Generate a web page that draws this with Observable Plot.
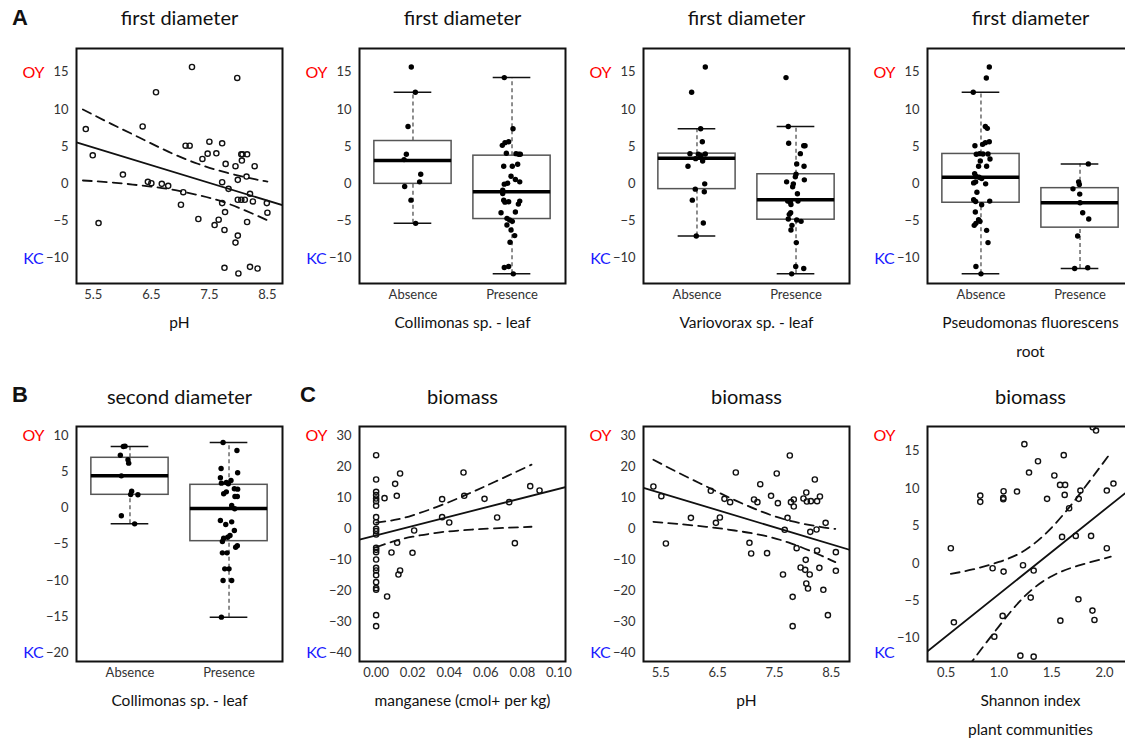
<!DOCTYPE html>
<html><head><meta charset="utf-8">
<script src="https://cdn.jsdelivr.net/npm/d3@7"></script>
<script src="https://cdn.jsdelivr.net/npm/@observablehq/plot@0.6"></script>
<style>
body{margin:0;background:#fff;overflow:hidden}
#root{position:relative;width:1125px;height:740px;overflow:hidden;background:#fff}
.panel{position:absolute}
.panel svg{max-width:none !important}
.letter{position:absolute;font-family:"Liberation Sans",Arial,sans-serif;font-weight:bold;font-size:22px;line-height:22px;color:#111}
</style></head><body><div id="root"></div>
<script>
// ---------- DATA ----------
const categories = ["Absence", "Presence"];
const ticksFD = [-10, -5, 0, 5, 10, 15];
const ticksSD = [-20, -15, -10, -5, 0, 5, 10];
const ticksBio = [-40, -30, -20, -10, 0, 10, 20, 30];
const ticksBioSh = [-10, -5, 0, 5, 10, 15];
const ticksPH = [5.5, 6.5, 7.5, 8.5];
const ticksMn = [0, 0.02, 0.04, 0.06, 0.08, 0.10];
const ticksSh = [0.5, 1.0, 1.5, 2.0];

// A: first diameter vs pH  [pH, value]
const fdPH = [[5.37,7.37],[5.49,3.84],[5.59,-5.27],[6.01,1.25],[6.35,7.72],[6.58,12.32],[6.44,0.27],[6.50,0.09],[6.68,0.0],[6.79,-0.27],[7.01,-2.81],[7.05,-1.12],[7.09,5.13],[7.16,5.13],[7.20,15.71],[7.31,-4.73],[7.38,3.35],[7.47,4.06],[7.50,5.67],[7.59,-5.54],[7.62,4.11],[7.66,-4.82],[7.72,5.45],[7.72,0.22],[7.76,-6.20],[7.77,-3.79],[7.78,2.68],[7.83,-0.67],[7.72,-2.59],[7.76,-11.29],[7.95,2.37],[7.95,-7.90],[7.98,14.24],[7.99,-6.96],[7.99,0.54],[7.99,-2.14],[8.00,-12.05],[8.05,-2.14],[8.05,3.97],[8.06,3.13],[8.07,3.97],[8.11,-2.14],[8.14,0.98],[8.15,3.97],[8.15,-5.13],[8.20,-1.34],[8.25,-2.37],[8.20,-11.16],[8.28,2.37],[8.33,-11.38],[8.49,-2.59],[8.50,-3.88]];
const fdPHFit = [17.98, -2.38]; // intercept, slope
const fdPHCiX = [5.32, 5.8, 6.3, 6.8, 7.3, 7.8, 8.3, 8.5];
const fdPHCiUp = [10.0, 8.1, 6.2, 4.3, 2.7, 1.5, 0.6, 0.3];
const fdPHCiLo = [0.45, 0.2, -0.2, -0.7, -1.5, -2.6, -4.2, -4.9];

// box stats: [low whisker, q1, median, q3, high whisker]
const collFDStats = [[-5.31, 0.0, 3.13, 5.76, 12.32], [-12.1, -4.73, -1.07, 3.79, 14.29]];
const collFDAbs = [[-0.017,15.71],[0.024,12.32],[-0.05,7.72],[-0.067,3.97],[-0.09,3.26],[0.078,1.29],[0.067,0.27],[-0.084,-0.36],[-0.02,-2.19],[0.027,-5.31]];
const collFDPres = [[-0.078,14.29],[0.01,7.41],[-0.098,5.18],[-0.071,5.54],[-0.034,5.67],[-0.057,4.11],[0.04,4.06],[0.067,3.97],[0.084,3.97],[0.057,2.63],[-0.084,2.37],[0.003,2.37],[-0.01,1.03],[0.034,0.58],[0.078,0.27],[-0.044,0.09],[-0.078,-0.04],[-0.094,-0.85],[-0.094,-1.29],[-0.084,-2.19],[-0.071,-2.46],[-0.034,-2.41],[0.078,-2.32],[0.064,-2.72],[-0.111,-3.88],[0.034,-3.79],[-0.051,-4.64],[-0.024,-4.87],[0.003,-5.04],[-0.051,-5.54],[-0.01,-6.2],[0.027,-6.96],[-0.02,-7.86],[-0.034,-11.12],[-0.078,-11.25],[0.013,-12.1]];

const varFDStats = [[-7.01, -0.71, 3.44, 4.06, 7.41], [-12.1, -4.82, -2.14, 1.29, 7.72]];
const varFDAbs = [[0.084,15.71],[-0.054,12.32],[0.037,7.41],[0.054,5.67],[-0.071,4.06],[0.014,3.97],[0.084,4.02],[0.04,3.8],[-0.014,3.39],[0.057,3.08],[-0.091,2.37],[0.078,0.0],[-0.017,-0.71],[0.074,-1.07],[-0.047,-2.19],[0.064,-5.27],[-0.007,-7.01]];
const varFDPres = [[-0.101,14.29],[-0.078,7.72],[-0.074,5.45],[0.078,5.13],[0.091,5.13],[0.044,4.06],[0.007,2.68],[0.081,2.37],[0.0,1.29],[-0.007,0.94],[-0.095,0.27],[0.084,0.54],[-0.027,0.0],[-0.034,-0.4],[0.014,-1.34],[-0.084,-2.32],[-0.057,-2.46],[0.02,-2.32],[-0.051,-2.77],[-0.054,-3.88],[-0.068,-4.1],[-0.078,-4.73],[0.007,-4.87],[0.051,-5.04],[-0.041,-5.58],[-0.051,-6.2],[0.003,-7.9],[-0.003,-11.12],[0.078,-11.38],[-0.044,-12.1]];

const pseFDStats = [[-12.1, -2.54, 0.89, 4.02, 12.32], [-11.38, -5.89, -2.54, -0.58, 2.68]];
const pseFDAbs = [[0.084,15.71],[0.054,14.24],[-0.078,12.32],[0.044,7.72],[0.064,7.46],[-0.061,5.13],[0.017,5.31],[0.044,5.54],[0.084,5.67],[-0.047,3.97],[-0.014,4.06],[0.02,4.02],[0.071,4.02],[0.091,3.35],[-0.007,3.08],[-0.024,2.37],[0.057,2.37],[-0.064,1.38],[-0.051,1.03],[-0.02,0.89],[0.007,0.72],[-0.074,0.13],[-0.054,0.27],[0.047,0.0],[-0.041,-1.12],[-0.074,-2.14],[-0.054,-2.37],[0.088,-2.32],[0.007,-2.81],[-0.057,-3.79],[-0.024,-4.82],[-0.01,-5.04],[-0.051,-5.31],[-0.068,-5.58],[0.057,-6.25],[0.071,-7.9],[-0.051,-11.12],[0.0,-12.1]];
const pseFDPres = [[0.084,2.68],[-0.014,0.27],[-0.007,-0.09],[-0.071,-0.67],[-0.003,-1.38],[0.0,-2.54],[0.027,-3.88],[0.088,-4.73],[-0.024,-7.01],[-0.054,-11.38],[0.078,-11.29]];

// B: second diameter
const collSDStats = [[-2.2, 1.81, 4.43, 6.92, 8.48], [-15.08, -4.59, -0.08, 3.19, 9.03]];
const collSDAbs = [[-0.067,8.48],[-0.05,8.53],[-0.097,7.28],[-0.02,6.64],[-0.013,6.18],[-0.087,4.43],[0.017,2.31],[0.007,1.85],[0.08,1.81],[-0.087,-1.09],[0.047,-2.2]];
const collSDPres = [[-0.06,9.03],[0.08,7.93],[-0.08,5.44],[0.087,4.85],[-0.087,4.16],[-0.077,3.42],[-0.027,3.51],[0.02,3.79],[-0.007,3.33],[-0.054,1.95],[-0.027,2.22],[0.054,2.64],[0.087,2.59],[0.06,1.58],[0.084,1.58],[0.027,0.34],[0.057,-0.12],[-0.087,-1.74],[0.027,-1.92],[-0.033,-2.29],[0.054,-3.12],[0.01,-3.81],[-0.013,-4.04],[-0.054,-4.17],[-0.067,-4.63],[0.067,-5.42],[0.084,-5.23],[-0.067,-6.2],[-0.02,-6.2],[-0.043,-8.41],[0.0,-8.41],[-0.06,-10.02],[0.027,-10.02],[-0.077,-15.08]];

// C: biomass vs manganese [Mn, value]
const bioMn = [[0,23.66],[0,15.83],[0,11.86],[0,10.78],[0,9.71],[0,8.85],[0,7.35],[0,3.7],[0,2.08],[0,-0.06],[0,-0.81],[0,-1.89],[0,-6.18],[0,-6.83],[0,-7.58],[0,-9.94],[0,-12.63],[0,-13.48],[0,-14.98],[0,-17.24],[0,-19.17],[0,-19.71],[0,-27.87],[0,-31.41],[0.0046,9.82],[0.0104,14.43],[0.0113,10.57],[0.0131,17.76],[0.0115,-4.57],[0.0084,-7.69],[0.0122,-14.77],[0.0131,-13.48],[0.006,-21.86],[0.0208,-0.6],[0.0199,-7.79],[0.0361,9.49],[0.0361,3.7],[0.04,1.98],[0.0478,18.08],[0.0482,10.57],[0.0593,9.6],[0.0662,3.59],[0.0728,8.53],[0.0759,-4.68],[0.0843,13.68],[0.0894,12.28]];
const bioMnFit = [-2.14, 149.6];
const bioMnCiX = [0, 0.01, 0.02, 0.035, 0.05, 0.065, 0.085];
const bioMnCiUp = [1.9, 2.8, 4.3, 7.4, 11.1, 15.1, 20.6];
const bioMnCiLo = [-6.0, -4.0, -2.6, -1.2, -0.4, 0.1, 0.6];

// C: biomass vs pH
const bioPH = [[5.37,13.57],[5.51,10.46],[5.59,-4.79],[6.03,3.48],[6.38,12.18],[6.47,1.87],[6.54,3.59],[6.62,9.6],[6.72,8.53],[6.82,18.08],[7.06,-4.57],[7.09,-8.01],[7.14,9.39],[7.2,8.53],[7.25,14.32],[7.37,-7.9],[7.44,10.57],[7.54,17.76],[7.56,8.21],[7.65,-14.77],[7.68,-0.38],[7.73,3.48],[7.77,23.56],[7.79,8.53],[7.84,9.39],[7.84,7.13],[7.82,-21.97],[7.82,-31.41],[7.89,-6.29],[7.96,-12.52],[8.01,9.71],[8.04,-13.27],[8.05,-10.05],[8.06,11.64],[8.07,8.74],[8.06,-17.67],[8.09,-19.28],[8.13,-1.03],[8.12,-14.77],[8.14,8.85],[8.21,15.83],[8.24,-0.28],[8.25,8.85],[8.25,-7.04],[8.29,-12.63],[8.3,10.35],[8.36,-19.71],[8.4,1.87],[8.44,-27.87],[8.58,-7.58],[8.58,-13.59]];
const bioPHFit = [41.77, -5.51];
const bioPHCiX = [5.37, 5.8, 6.3, 6.8, 7.3, 7.8, 8.3, 8.57];
const bioPHCiUp = [22.2, 18.1, 13.6, 9.2, 5.3, 2.4, 0.6, -0.1];
const bioPHCiLo = [2.2, 1.5, 0.6, -0.6, -2.2, -4.8, -8.5, -10.8];

// C: biomass vs Shannon index
const bioSh = [[0.544,2.03],[0.573,-7.86],[0.823,9.07],[0.823,8.23],[0.94,-0.64],[0.956,-9.78],[1.035,-7.01],[1.044,9.65],[1.041,8.76],[1.041,8.58],[1.044,-1.09],[1.171,9.61],[1.203,-12.32],[1.228,-0.24],[1.241,15.94],[1.285,12.15],[1.301,-4.56],[1.329,-12.45],[1.329,-0.95],[1.37,13.66],[1.456,8.63],[1.525,11.75],[1.579,10.5],[1.614,14.47],[1.627,10.5],[1.623,9.16],[1.598,3.55],[1.582,-7.64],[1.665,7.38],[1.728,3.68],[1.756,8.63],[1.772,9.74],[1.753,-4.79],[1.873,3.68],[1.886,-6.3],[1.905,-7.55],[1.889,18.2],[1.92,17.76],[2.022,9.74],[2.022,2.03],[2.085,10.68]];
const bioShFit = [-15.38, 11.28];
const bioShCiX = [0.544, 0.75, 1.0, 1.25, 1.5, 1.75, 2.06];
const bioShCiUp = [-1.4, -0.8, 0.2, 1.8, 4.8, 9.0, 14.8];
const bioShCiLo = [-17.0, -13.0, -8.4, -4.3, -1.7, -0.3, 0.9];

// ---------- LAYOUT ----------
const FONT = "Lato, 'Open Sans', sans-serif";
const ML = 80, MR = 12, MT = 48, MB = 80, FW = 206, FH = 235;
const root = document.getElementById("root");

function place(svg, frameLeft, frameTop) {
  const d = document.createElement("div");
  d.className = "panel";
  d.style.left = (frameLeft - ML) + "px";
  d.style.top = (frameTop - MT) + "px";
  d.style.width = (ML + FW + MR) + "px";
  d.style.height = (MT + FH + MB) + "px";
  svg.style.maxWidth = "none";
  d.appendChild(svg);
  root.appendChild(d);
}

function decor(o) {
  const marks = [
    Plot.text([o.title], {frameAnchor: "top", lineAnchor: "middle", dy: o.row === 1 ? -30 : -29, fontSize: 20, fill: "#111"}),
    Plot.text(["OY"], {frameAnchor: "top-left", textAnchor: "middle", lineAnchor: "middle", dx: -43, dy: o.row === 1 ? 24 : 9, fill: "#f00", fontSize: 16}),
    Plot.text(["KC"], {frameAnchor: "bottom-left", textAnchor: "middle", lineAnchor: "middle", dx: -43, dy: o.row === 1 ? -25 : -9, fill: "#1a1aff", fontSize: 16})
  ];
  o.xLabels.forEach((t, i) => marks.push(Plot.text([t], {frameAnchor: "bottom", lineAnchor: "middle", dy: 40 + 29 * i, fontSize: 15.5, fill: "#111"})));
  return marks;
}

function base(o, marks) {
  return Plot.plot({
    width: ML + FW + MR, height: MT + FH + MB,
    marginLeft: ML, marginRight: MR, marginTop: MT, marginBottom: MB,
    style: {fontFamily: FONT, background: "transparent", overflow: "visible"},
    x: {domain: o.xDomain}, y: {domain: o.yDomain},
    marks: [
      ...marks,
      Plot.axisY(o.yTicks, {tickSize: 0, tickPadding: 8, fontSize: 13, fill: "#333", label: null}),
      Plot.axisX(o.xTicks, {tickSize: 0, tickPadding: 6, fontSize: 13, fill: "#333", label: null, tickFormat: o.xFmt}),
      Plot.frame({stroke: "#111", strokeWidth: 2}),
      ...decor(o)
    ]
  });
}

function scatterPanel(o) {
  const [b0, b1] = o.fit;
  const fitLine = o.xDomain.map(x => ({x, y: b0 + b1 * x}));
  const ci = o.ciX.map((x, i) => ({x, up: o.ciUp[i], lo: o.ciLo[i]}));
  const marks = [
    Plot.line(fitLine, {x: "x", y: "y", stroke: "#111", strokeWidth: 1.8, clip: true}),
    Plot.line(ci, {x: "x", y: "up", curve: "natural", stroke: "#111", strokeWidth: 1.8, strokeDasharray: "9,6", clip: true}),
    Plot.line(ci, {x: "x", y: "lo", curve: "natural", stroke: "#111", strokeWidth: 1.8, strokeDasharray: "9,6", clip: true}),
    Plot.dot(o.pts, {x: d => d[0], y: d => d[1], r: 2.6, stroke: "#111", strokeWidth: 1.4, fill: "none", clip: true})
  ];
  place(base(o, marks), o.left, o.top);
}

function boxPanel(o) {
  const boxes = o.stats.map((s, i) => ({pos: i + 1, lo: s[0], q1: s[1], med: s[2], q3: s[3], hi: s[4]}));
  const pts = [...o.abs.map(d => ({x: 1 + d[0], y: d[1]})), ...o.pres.map(d => ({x: 2 + d[0], y: d[1]}))];
  const hw = 0.39, cw = 0.19;
  const marks = [
    Plot.ruleX(boxes, {x: "pos", y1: "q3", y2: "hi", stroke: "#444", strokeWidth: 1.2, strokeDasharray: "4,3"}),
    Plot.ruleX(boxes, {x: "pos", y1: "lo", y2: "q1", stroke: "#444", strokeWidth: 1.2, strokeDasharray: "4,3"}),
    Plot.ruleY(boxes, {x1: d => d.pos - cw, x2: d => d.pos + cw, y: "hi", stroke: "#111", strokeWidth: 1.5}),
    Plot.ruleY(boxes, {x1: d => d.pos - cw, x2: d => d.pos + cw, y: "lo", stroke: "#111", strokeWidth: 1.5}),
    Plot.rect(boxes, {x1: d => d.pos - hw, x2: d => d.pos + hw, y1: "q1", y2: "q3", fill: "none", stroke: "#555", strokeWidth: 1.5}),
    Plot.ruleY(boxes, {x1: d => d.pos - hw, x2: d => d.pos + hw, y: "med", stroke: "#000", strokeWidth: 3.5}),
    Plot.dot(pts, {x: "x", y: "y", r: 2.7, fill: "#000", stroke: "none"})
  ];
  place(base({...o, xDomain: [0.46, 2.54], xTicks: [1, 2], xFmt: d => categories[d - 1]}, marks), o.left, o.top);
}

const lefts = [76, 359, 643, 927];
const tops = [48, 426];

scatterPanel({left: lefts[0], top: tops[0], row: 1, title: "first diameter", xLabels: ["pH"],
  xDomain: [5.21, 8.76], yDomain: [-13.4, 18.2], xTicks: ticksPH, yTicks: ticksFD, xFmt: d => d.toFixed(1),
  pts: fdPH, fit: fdPHFit, ciX: fdPHCiX, ciUp: fdPHCiUp, ciLo: fdPHCiLo});
boxPanel({left: lefts[1], top: tops[0], row: 1, title: "first diameter", xLabels: ["Collimonas sp. - leaf"],
  yDomain: [-13.4, 18.2], yTicks: ticksFD, stats: collFDStats, abs: collFDAbs, pres: collFDPres});
boxPanel({left: lefts[2], top: tops[0], row: 1, title: "first diameter", xLabels: ["Variovorax sp. - leaf"],
  yDomain: [-13.4, 18.2], yTicks: ticksFD, stats: varFDStats, abs: varFDAbs, pres: varFDPres});
boxPanel({left: lefts[3], top: tops[0], row: 1, title: "first diameter", xLabels: ["Pseudomonas fluorescens", "root"],
  yDomain: [-13.4, 18.2], yTicks: ticksFD, stats: pseFDStats, abs: pseFDAbs, pres: pseFDPres});

boxPanel({left: lefts[0], top: tops[1], row: 2, title: "second diameter", xLabels: ["Collimonas sp. - leaf"],
  yDomain: [-21.2, 11.24], yTicks: ticksSD, stats: collSDStats, abs: collSDAbs, pres: collSDPres});
scatterPanel({left: lefts[1], top: tops[1], row: 2, title: "biomass", xLabels: ["manganese (cmol+ per kg)"],
  xDomain: [-0.0091, 0.1036], yDomain: [-42.8, 32.9], xTicks: ticksMn, yTicks: ticksBio, xFmt: d => d.toFixed(2),
  pts: bioMn, fit: bioMnFit, ciX: bioMnCiX, ciUp: bioMnCiUp, ciLo: bioMnCiLo});
scatterPanel({left: lefts[2], top: tops[1], row: 2, title: "biomass", xLabels: ["pH"],
  xDomain: [5.196, 8.82], yDomain: [-42.8, 32.9], xTicks: ticksPH, yTicks: ticksBio, xFmt: d => d.toFixed(1),
  pts: bioPH, fit: bioPHFit, ciX: bioPHCiX, ciUp: bioPHCiUp, ciLo: bioPHCiLo});
scatterPanel({left: lefts[3], top: tops[1], row: 2, title: "biomass", xLabels: ["Shannon index", "plant communities"],
  xDomain: [0.323, 2.275], yDomain: [-13.1, 18.3], xTicks: ticksSh, yTicks: ticksBioSh, xFmt: d => d.toFixed(1),
  pts: bioSh, fit: bioShFit, ciX: bioShCiX, ciUp: bioShCiUp, ciLo: bioShCiLo});

// panel letters
[["A", 12, 7], ["B", 12, 384], ["C", 300, 384]].forEach(([t, x, y]) => {
  const d = document.createElement("div");
  d.className = "letter"; d.textContent = t;
  d.style.left = x + "px"; d.style.top = y + "px";
  root.appendChild(d);
});
</script></body></html>
